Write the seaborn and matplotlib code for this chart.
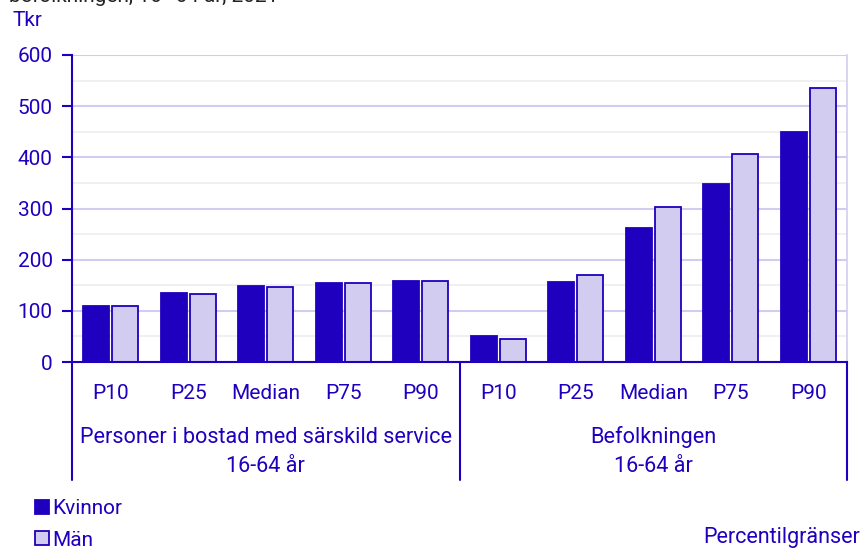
import matplotlib
matplotlib.use("Agg")
import pandas as pd
import seaborn as sns
import matplotlib.pyplot as plt
from matplotlib.patches import Patch
from matplotlib.ticker import MultipleLocator
import matplotlib.transforms as mtransforms

# data
percentiler = ["P10", "P25", "Median", "P75", "P90"]
grupper = ["Personer i bostad med särskild service\n16-64 år", "Befolkningen\n16-64 år"]
kvinnor_lss = [110, 134, 148, 155, 158]
man_lss = [109, 133, 147, 154, 158]
kvinnor_bef = [50, 157, 262, 348, 450]
man_bef = [44, 171, 303, 406, 535]

MORK = "#1E00BE"
LJUS = "#D2CDF0"
FS = 15

rows = []
for g, kv, ma in [(0, kvinnor_lss, man_lss), (1, kvinnor_bef, man_bef)]:
    for p, k, m in zip(percentiler, kv, ma):
        rows.append({"key": f"{g}_{p}", "Kön": "Kvinnor", "Tkr": k})
        rows.append({"key": f"{g}_{p}", "Kön": "Män", "Tkr": m})
df = pd.DataFrame(rows)

sns.set_style("white")
plt.rcParams["font.family"] = ["Roboto", "DejaVu Sans"]

fig = plt.figure(figsize=(8.63, 5.5), dpi=100)
ax = fig.add_axes([72 / 863, 188 / 550, 775 / 863, 307 / 550])

sns.barplot(data=df, x="key", y="Tkr", hue="Kön", palette=[MORK, LJUS],
            saturation=1, width=0.75, gap=0.1, edgecolor=MORK, linewidth=1.3,
            legend=False, ax=ax)

ax.set_xlim(-0.5, 9.5)
ax.set_ylim(0, 600)
ax.yaxis.set_major_locator(MultipleLocator(100))
ax.yaxis.set_minor_locator(MultipleLocator(50))
ax.grid(True, which="major", axis="y", color=LJUS, linewidth=1.5, zorder=0)
ax.grid(True, which="minor", axis="y", color="#EEEEEE", linewidth=1.2, zorder=0)
ax.set_axisbelow(True)

ax.spines["top"].set_visible(False)
ax.spines["right"].set_color(LJUS)
ax.spines["right"].set_linewidth(1.2)
ax.spines["left"].set_color(MORK)
ax.spines["left"].set_linewidth(1.5)
ax.spines["bottom"].set_color(MORK)
ax.spines["bottom"].set_linewidth(1.5)

ax.tick_params(axis="y", which="major", left=True, length=7, width=1.5, color=MORK,
               labelcolor=MORK, labelsize=FS, pad=7)
ax.tick_params(axis="y", which="minor", left=False)
ax.tick_params(axis="x", bottom=False, labelcolor=MORK, labelsize=FS, pad=12)
ax.set_xticks(range(10))
ax.set_xticklabels(percentiler * 2)
ax.set_xlabel("")
ax.set_ylabel("")

# gruppetiketter och avdelare under axeln
trans = mtransforms.blended_transform_factory(ax.transData, ax.transAxes)
for xpos in [-0.5, 4.5, 9.5]:
    ax.plot([xpos, xpos], [0, -118 / 307], transform=trans, color=MORK,
            linewidth=1.5, clip_on=False)
for i, g in enumerate(grupper):
    ax.text(2 + i * 5, -90 / 307, g, transform=trans, ha="center", va="center",
            color=MORK, fontsize=15.6, linespacing=1.5)

fig.text(12 / 863, 1 - 20 / 550, "Tkr", color=MORK, fontsize=FS, va="center")
fig.text(9 / 863, 1 - 2 / 550, "befolkningen, 16–64 år, 2021", color="#222222",
         fontsize=FS, va="baseline")
fig.text(860 / 863, 1 - 537 / 550, "Percentilgränser", color=MORK, fontsize=15.5,
         ha="right", va="center")

handles = [Patch(facecolor=MORK, edgecolor=MORK, linewidth=1.3),
           Patch(facecolor=LJUS, edgecolor=MORK, linewidth=1.3)]
leg = fig.legend(handles, ["Kvinnor", "Män"], loc="upper left",
                 bbox_to_anchor=(35 / 863, 1 - 499 / 550), frameon=False,
                 handlelength=0.65, handleheight=0.65, handletextpad=0.2,
                 labelspacing=0.6, fontsize=FS, borderpad=0, borderaxespad=0)
for t in leg.get_texts():
    t.set_color(MORK)

fig.savefig("out.png", dpi=100)
